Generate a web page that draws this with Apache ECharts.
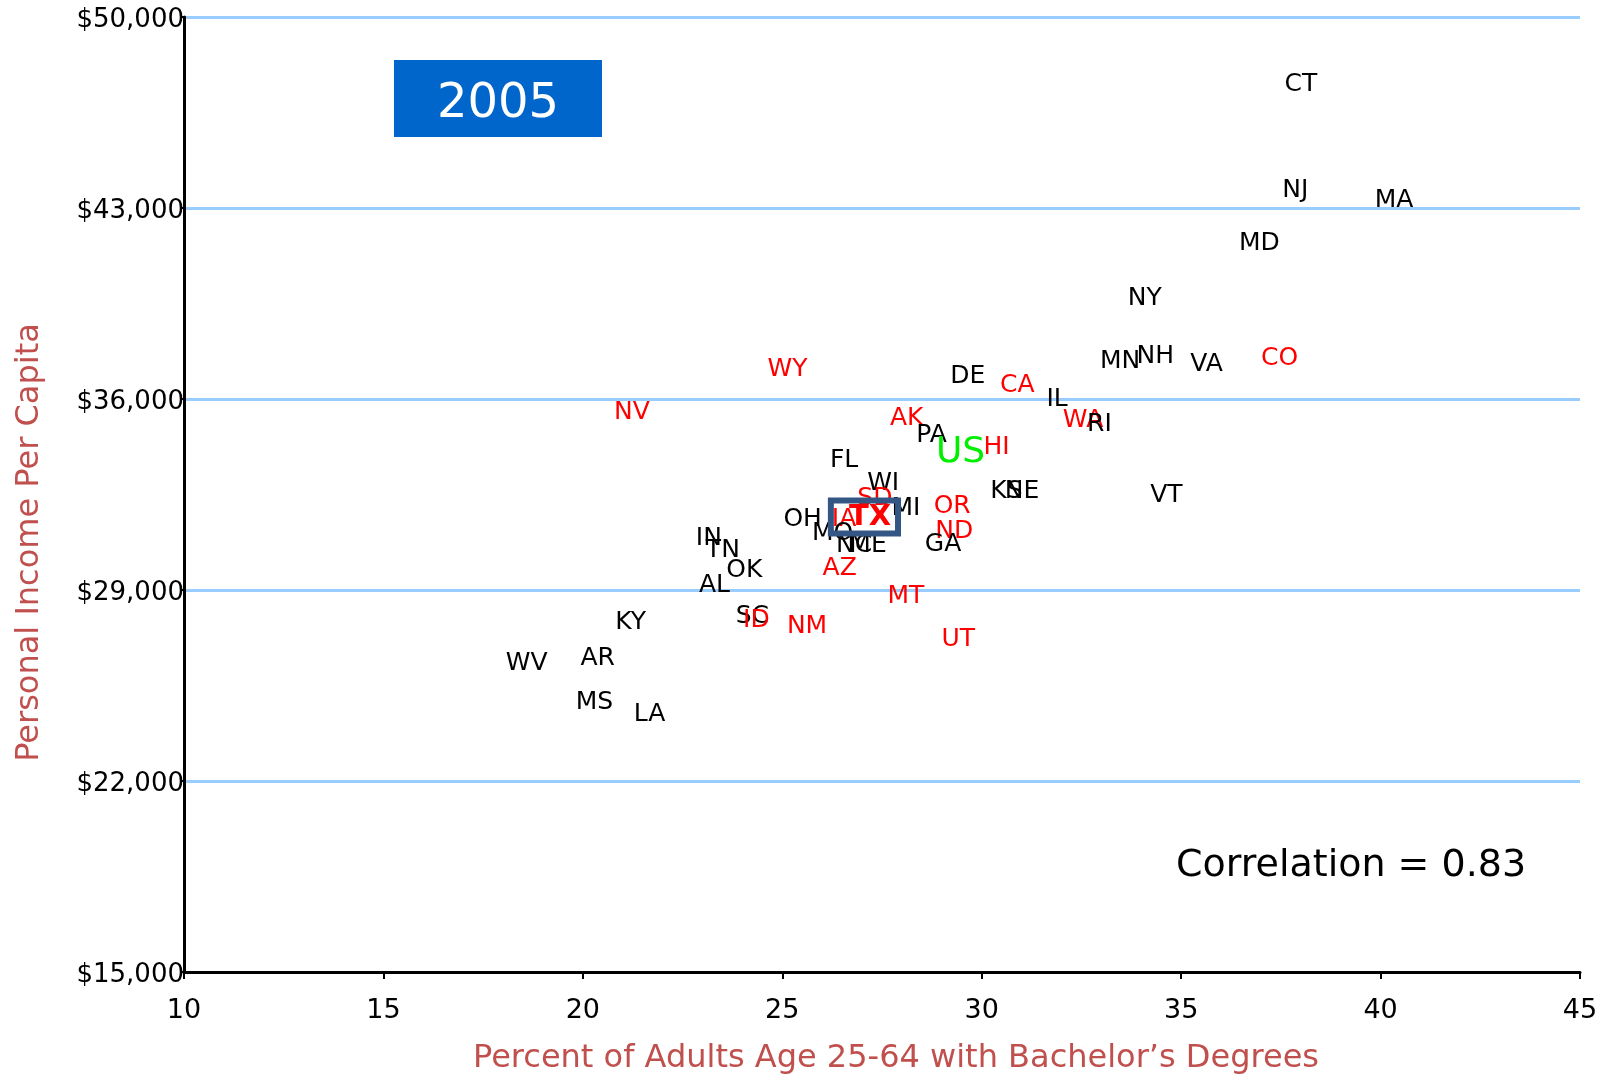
<!DOCTYPE html>
<html>
<head>
<meta charset="utf-8">
<script src="https://cdn.jsdelivr.net/npm/echarts@6/dist/echarts.min.js"></script>
<style>
  html, body { margin: 0; padding: 0; background: #fff; }
  #main { width: 1612px; height: 1074px; }
</style>
</head>
<body>
<div id="main"></div>
<script>
// state abbreviations, % adults 25-64 with bachelor's, personal income per capita
const states = ['CT','NJ','MA','MD','NY','MN','NH','VA','CO','DE','CA','IL','WA','RI','WY','NV','AK','PA','HI','FL',
    'WI','KS','NE','VT','SD','MI','OR','OH','IA','MO','NC','ME','ND','GA','IN','TN','OK','AZ','AL','MT',
    'KY','SC','ID','NM','UT','WV','AR','MS','LA']
const bachelors = [38.0, 37.86, 40.34, 36.96, 34.09, 33.47, 34.35, 35.64, 37.47, 29.65, 30.89, 31.89, 32.54, 32.95, 25.13, 21.23, 28.12, 28.74, 30.37, 26.55,
    27.53, 30.62, 31.01, 34.63, 27.32, 28.10, 29.26, 25.51, 26.55, 26.26, 26.80, 27.15, 29.31, 29.03, 23.16, 23.51, 24.05, 26.44, 23.30, 28.10,
    21.20, 24.25, 24.35, 25.62, 29.41, 18.59, 20.37, 20.29, 21.67]
const income = [47620, 43740, 43400, 41810, 39780, 37480, 37670, 37370, 37590, 36950, 36610, 36090, 35330, 35180, 37180, 35600, 35410, 34770, 34350, 33860,
    33030, 32730, 32730, 32580, 32470, 32090, 32170, 31710, 31680, 31190, 30730, 30730, 31260, 30770, 31000, 30540, 29830, 29900, 29260, 28890,
    27910, 28130, 27980, 27760, 27300, 26400, 26590, 24970, 24550]
// states drawn in red
const redStates = ['CO','CA','WA','WY','NV','AK','HI','SD','OR','IA','ND','AZ','MT','ID','NM','UT']

const usPoint = [29.47, 34130]
const txPoint = [27.06, 31710]

const yearText = '2005'
const corrText = 'Correlation = 0.83'

const FONT = 'DejaVu Sans, Verdana, sans-serif'

const stateData = states.map((s, i) => ({
    name: s,
    value: [bachelors[i], income[i]],
    label: { color: redStates.includes(s) ? '#ff0000' : '#000000' }
}))

var myChart = echarts.init(document.getElementById('main'))

// invisible point, the label is the mark
const hidden = { color: 'rgba(0,0,0,0)' }
const plainLabel = { show: true, position: 'inside', formatter: '{b}', offset: [0, 3], textBorderWidth: 0, opacity: 1 }

var option = {
    animation: false,
    textStyle: { fontFamily: FONT },
    grid: { left: 184, right: 32, top: 17, bottom: 102, containLabel: false, outerBoundsMode: 'none' },
    xAxis: {
        type: 'value',
        min: 10, max: 45, interval: 5,
        axisLine: { show: true, onZero: false, lineStyle: { color: '#000', width: 3 } },
        axisTick: { show: true, length: 7, lineStyle: { color: '#000', width: 2 } },
        splitLine: { show: false },
        axisLabel: { color: '#000', fontSize: 27, margin: 25, fontFamily: FONT },
        name: 'Percent of Adults Age 25-64 with Bachelor\u2019s Degrees',
        nameLocation: 'middle',
        nameGap: 71,
        nameTextStyle: { color: '#c0504d', fontSize: 32, fontFamily: FONT, padding: [0, 0, 0, 28] }
    },
    yAxis: {
        type: 'value',
        min: 15000, max: 50000, interval: 7000,
        axisLine: { show: true, onZero: false, lineStyle: { color: '#000', width: 3 } },
        axisTick: { show: true, length: 4, lineStyle: { color: '#000', width: 2 } },
        splitLine: { show: true, lineStyle: { color: '#99ccff', width: 3 } },
        axisLabel: {
            margin: 0,
            formatter: v => '{v|$' + v.toLocaleString('en-US') + '}',
            rich: { v: { color: '#000', fontSize: 26, fontFamily: FONT, padding: [7, 0, 0, 0] } }
        },
        name: 'Personal Income Per Capita',
        nameLocation: 'middle',
        nameGap: 138,
        nameTextStyle: { color: '#c0504d', fontSize: 32, fontFamily: FONT, padding: [0, 96, 0, 0] }
    },
    graphic: [
        {
            type: 'group', left: 394, top: 60,
            children: [
                { type: 'rect', shape: { x: 0, y: 0, width: 208, height: 77 }, style: { fill: '#0066cc' } },
                { type: 'text', x: 104, y: 45, style: { text: yearText, fill: '#fff', font: '48px ' + FONT, align: 'center', verticalAlign: 'middle' } }
            ]
        },
        {
            type: 'text', x: 1176, y: 866,
            style: { text: corrText, fill: '#000', font: '38px ' + FONT, verticalAlign: 'middle' }
        }
    ],
    series: [
        {
            name: 'states',
            type: 'scatter',
            symbolSize: 1,
            itemStyle: hidden,
            label: Object.assign({}, plainLabel, { fontSize: 25, fontFamily: FONT }),
            data: stateData
        },
        {
            name: 'US',
            type: 'scatter',
            symbolSize: 1,
            itemStyle: hidden,
            label: Object.assign({}, plainLabel, { fontSize: 36, color: '#00ee00', fontFamily: FONT }),
            data: [{ name: 'US', value: usPoint }]
        },
        {
            name: 'TX',
            type: 'scatter',
            symbolSize: 1,
            itemStyle: hidden,
            label: Object.assign({}, plainLabel, {
                offset: [0, 1],
                fontSize: 29, fontWeight: 'bold', color: '#ff0000', fontFamily: FONT,
                borderColor: '#345684', borderWidth: 6,
                padding: [3, 7, 1, 18]
            }),
            data: [{ name: 'TX', value: txPoint }]
        }
    ]
}

myChart.setOption(option)
</script>
</body>
</html>
